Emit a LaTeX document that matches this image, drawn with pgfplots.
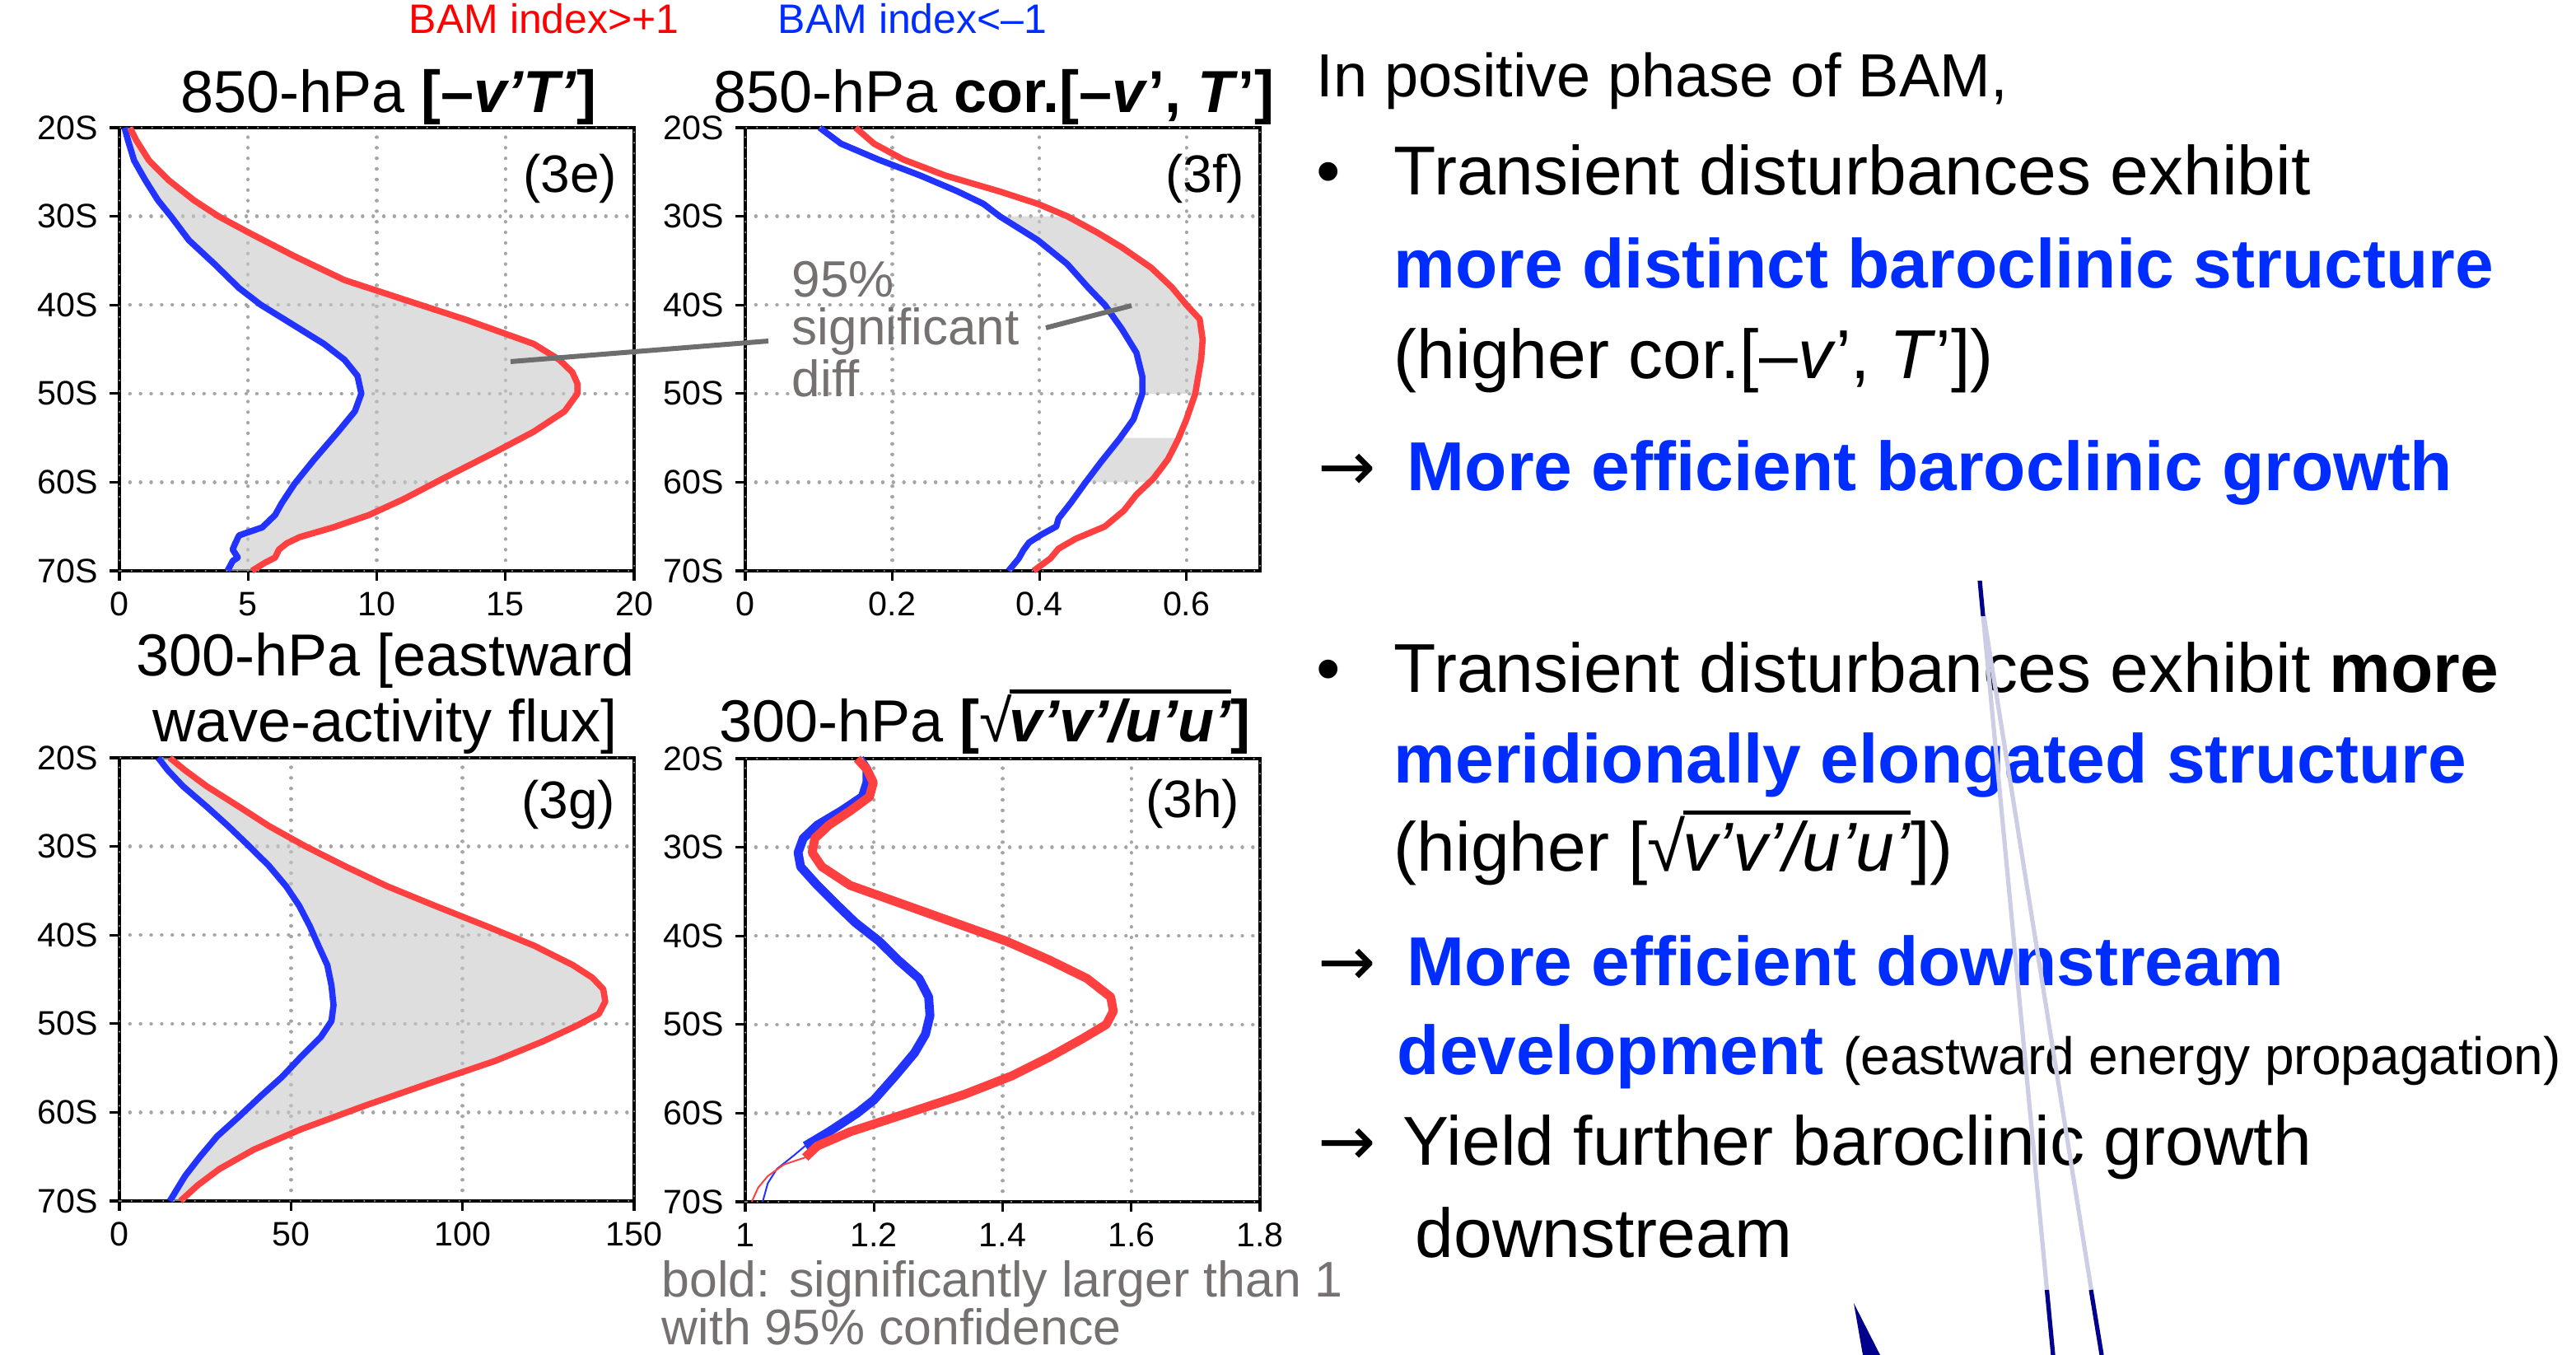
\documentclass[border=0pt]{standalone}
\usepackage{fontspec}
\setmainfont{Liberation Sans}
\newfontfamily\dejavu{DejaVu Sans}
\usepackage{pgfplots}
\usepackage{pgfplotstable}
\pgfplotsset{compat=1.18}

\definecolor{lred}{RGB}{255,64,64}
\definecolor{lblue}{RGB}{34,51,255}
\definecolor{tred}{RGB}{255,0,0}
\definecolor{tblue}{RGB}{0,45,255}
\definecolor{anngrey}{RGB}{118,113,113}
\definecolor{gridgrey}{RGB}{165,165,165}
\definecolor{leader}{RGB}{110,110,110}
\definecolor{navyx}{RGB}{0,0,140}
\definecolor{lav}{RGB}{205,205,230}
\definecolor{fillg}{RGB}{200,200,200}

\newcommand\sqrtbox[1]{√\kern-0.04em\vbox{\hrule height 0.06em\kern0.1em\hbox{#1}}}

\pgfplotstableread{
x y
0.41 -20
0.65 -21.4
1.15 -23.7
1.9 -25.9
2.9 -28.2
3.85 -30
5.0 -31.8
6.8 -34.5
8.75 -37.2
11.7 -40
13.5 -41.7
16.1 -44.4
17.1 -46.2
17.6 -47.6
17.8 -48.9
17.8 -50
17.3 -52
16.1 -54.3
14.6 -56.6
12.5 -59.7
11.05 -61.9
9.7 -63.7
8.3 -65.1
7.0 -66.2
6.5 -66.9
6.2 -67.6
6.05 -68.5
5.65 -69.1
5.15 -70
}\eRed
\pgfplotstableread{
x y
0.2 -20
0.33 -21.4
0.57 -23.7
1.0 -25.9
1.5 -28.2
2.0 -30
2.7 -32.7
3.7 -35.4
4.65 -38.1
5.5 -40
6.45 -41.7
7.95 -44.4
8.75 -46.2
9.25 -48
9.4 -50
9.15 -52
8.5 -54.3
7.55 -57.5
6.8 -60.2
6.3 -62.4
6.05 -63.7
5.55 -65.1
4.65 -66
4.5 -66.9
4.4 -67.6
4.6 -68.5
4.4 -68.9
4.2 -70
}\eBlue
\pgfplotstableread{
x y
0.150 -20
0.175 -21.8
0.215 -23.6
0.272 -25.4
0.346 -27.2
0.398 -28.6
0.438 -30
0.478 -31.8
0.512 -33.5
0.552 -35.8
0.580 -38
0.600 -40
0.618 -41.6
0.622 -43.9
0.620 -46.1
0.612 -50
0.600 -52.9
0.589 -55.1
0.575 -57.4
0.555 -59.6
0.532 -61.4
0.515 -63.2
0.489 -65
0.449 -66.4
0.426 -67.5
0.415 -68.6
0.392 -70
}\fRed
\pgfplotstableread{
x y
0.101 -20
0.130 -21.8
0.181 -23.6
0.238 -25.4
0.289 -27.2
0.324 -28.6
0.346 -30
0.398 -32.7
0.438 -35.4
0.467 -38.1
0.489 -40
0.512 -42.7
0.532 -45.4
0.540 -48.1
0.540 -50
0.528 -52.9
0.509 -55.1
0.483 -57.8
0.463 -60
0.443 -62.3
0.426 -64.1
0.423 -65
0.403 -65.9
0.386 -66.8
0.378 -67.7
0.372 -68.6
0.358 -70
}\fBlue
\pgfplotstableread{
x y
14.7 -20
19.1 -21.4
25.4 -23.2
34.8 -25.5
43.6 -27.7
54.3 -30
65.6 -32.2
78.1 -34.5
92 -36.7
107 -39
120.9 -41.2
132.2 -43.4
137.8 -44.8
141 -46.1
141.6 -47.5
139.7 -48.9
133.4 -50.2
123.4 -52
109.5 -54.2
92 -56.5
71.9 -59.2
53 -61.9
39.2 -64.2
29.1 -66.4
22.9 -68.2
17.8 -70
}\gRed
\pgfplotstableread{
x y
11.3 -20
14.1 -21.4
18.5 -23.2
25.4 -25.5
31.7 -27.7
37.9 -30
43.6 -32.2
48.6 -34.5
52.4 -36.7
55.5 -39
58 -41.2
60.6 -43.4
61.8 -45.7
62.4 -47.9
61.8 -49.7
58.7 -51.5
53 -53.7
47.4 -56
41.1 -58.2
34.8 -60.5
28.5 -62.7
23.5 -65
19.1 -67.2
14.7 -70
}\gBlue
\pgfplotstableread{
x y
1.174 -20
1.189 -21.2
1.199 -22.7
1.193 -24.3
1.163 -25.9
1.130 -27.5
1.108 -29
1.104 -30.6
1.119 -32.2
1.163 -34.3
1.244 -36.4
1.325 -38.5
1.406 -40.6
1.472 -42.7
1.531 -44.8
1.568 -46.9
1.572 -48.5
1.561 -50
1.524 -51.6
1.472 -53.7
1.414 -55.8
1.340 -57.9
1.252 -60
1.163 -62.1
1.112 -63.7
1.093 -65
}\hRedThick
\pgfplotstableread{
x y
1.093 -65
1.060 -65.8
1.035 -67.1
1.020 -68.4
1.010 -70
}\hRedThin
\pgfplotstableread{
x y
1.178 -20
1.189 -21.2
1.189 -22.7
1.182 -24.3
1.149 -25.9
1.112 -27.5
1.090 -29
1.082 -30.6
1.086 -32.2
1.112 -34.3
1.141 -36.4
1.171 -38.5
1.208 -40.6
1.237 -42.7
1.270 -44.8
1.285 -46.9
1.287 -49
1.280 -51.1
1.263 -53.2
1.233 -55.8
1.200 -58.5
1.174 -60
1.130 -62.1
1.093 -63.7
}\hBlueThick
\pgfplotstableread{
x y
1.093 -63.7
1.075 -64.8
1.049 -66.3
1.035 -67.9
1.027 -70
}\hBlueThin

\pgfplotsset{panel/.style={
  scale only axis, width=156.25pt, height=134.5pt,
  ymin=-70, ymax=-20, ytick={-70,-60,-50,-40,-30,-20},
  yticklabels={70S,60S,50S,40S,30S,20S},
  axis line style={black, line width=1.1pt},
  tick align=outside, tick pos=left, major tick length=3pt,
  tick style={black, line width=0.8pt},
  grid=major,
  major grid style={gridgrey, line width=1.1pt, dash pattern=on 0.01pt off 3.2pt, line cap=round},
  tick label style={font=\fontsize{10.3}{12}\selectfont},
  /pgf/number format/assume math mode=true,
  clip=false,
}}
\pgfplotsset{rl/.style={lred, line width=1.9pt, line join=round}, bl/.style={lblue, line width=1.9pt, line join=round},
  sh/.style={fill=fillg, fill opacity=0.6, draw=none}}
\newcommand\frameover{\draw[gridgrey, line width=0.6pt, dash pattern=on 0.01pt off 3.2pt, line cap=round] (rel axis cs:0,0) rectangle (rel axis cs:1,1);}

\newcommand\tf{\fontsize{18}{20}\selectfont}

\begin{document}
\begin{tikzpicture}
\path[use as bounding box] (0,0) rectangle (782pt,-411.25pt);

% 3e
\begin{axis}[panel, at={(36.25pt,-38.75pt)}, anchor=north west,
  xmin=0, xmax=20, xtick={0,5,10,15,20}]
\addplot[sh] coordinates {(0.41,-20) (0.65,-21.4) (1.15,-23.7) (1.9,-25.9) (2.9,-28.2) (3.85,-30) (5.0,-31.8) (6.8,-34.5) (8.75,-37.2) (11.7,-40) (13.5,-41.7) (16.1,-44.4) (17.1,-46.2) (17.6,-47.6) (17.8,-48.9) (17.8,-50) (17.3,-52) (16.1,-54.3) (14.6,-56.6) (12.5,-59.7) (11.05,-61.9) (9.7,-63.7) (8.3,-65.1) (7.0,-66.2) (6.5,-66.9) (6.2,-67.6) (6.05,-68.5) (5.65,-69.1) (5.15,-70)
 (4.2,-70) (4.4,-68.9) (4.6,-68.5) (4.4,-67.6) (4.5,-66.9) (4.65,-66) (5.55,-65.1) (6.05,-63.7) (6.3,-62.4) (6.8,-60.2) (7.55,-57.5) (8.5,-54.3) (9.15,-52) (9.4,-50) (9.25,-48) (8.75,-46.2) (7.95,-44.4) (6.45,-41.7) (5.5,-40) (4.65,-38.1) (3.7,-35.4) (2.7,-32.7) (2.0,-30) (1.5,-28.2) (1.0,-25.9) (0.57,-23.7) (0.33,-21.4) (0.2,-20)};
\addplot[bl] table {\eBlue};
\addplot[rl] table {\eRed};
\frameover
\end{axis}

% 3f
\begin{axis}[panel, at={(226.25pt,-38.75pt)}, anchor=north west,
  xmin=0, xmax=0.7, xtick={0,0.2,0.4,0.6}]
\addplot[sh] coordinates {(0.438,-30) (0.478,-31.8) (0.512,-33.5) (0.552,-35.8) (0.580,-38) (0.600,-40) (0.618,-41.6) (0.622,-43.9) (0.620,-46.1) (0.612,-50)
 (0.540,-50) (0.540,-48.1) (0.532,-45.4) (0.512,-42.7) (0.489,-40) (0.467,-38.1) (0.438,-35.4) (0.398,-32.7) (0.346,-30)};
\addplot[sh] coordinates {(0.589,-55) (0.575,-57.4) (0.552,-60) (0.463,-60) (0.483,-57.8) (0.510,-55)};
\addplot[bl] table {\fBlue};
\addplot[rl] table {\fRed};
\frameover
\end{axis}

% 3g
\begin{axis}[panel, at={(36.25pt,-230pt)}, anchor=north west,
  xmin=0, xmax=150, xtick={0,50,100,150}]
\addplot[sh] coordinates {(14.7,-20) (19.1,-21.4) (25.4,-23.2) (34.8,-25.5) (43.6,-27.7) (54.3,-30) (65.6,-32.2) (78.1,-34.5) (92,-36.7) (107,-39) (120.9,-41.2) (132.2,-43.4) (137.8,-44.8) (141,-46.1) (141.6,-47.5) (139.7,-48.9) (133.4,-50.2) (123.4,-52) (109.5,-54.2) (92,-56.5) (71.9,-59.2) (53,-61.9) (39.2,-64.2) (29.1,-66.4) (22.9,-68.2) (17.8,-70)
 (14.7,-70) (19.1,-67.2) (23.5,-65) (28.5,-62.7) (34.8,-60.5) (41.1,-58.2) (47.4,-56) (53,-53.7) (58.7,-51.5) (61.8,-49.7) (62.4,-47.9) (61.8,-45.7) (60.6,-43.4) (58,-41.2) (55.5,-39) (52.4,-36.7) (48.6,-34.5) (43.6,-32.2) (37.9,-30) (31.7,-27.7) (25.4,-25.5) (18.5,-23.2) (14.1,-21.4) (11.3,-20)};
\addplot[bl] table {\gBlue};
\addplot[rl] table {\gRed};
\frameover
\end{axis}

% 3h
\begin{axis}[panel, at={(226.25pt,-230.25pt)}, anchor=north west,
  xmin=1, xmax=1.8, xtick={1,1.2,1.4,1.6,1.8}]
\addplot[lblue, line width=2.7pt, line join=round] table {\hBlueThick};
\addplot[lblue, line width=0.5pt] table {\hBlueThin};
\addplot[lred, line width=2.7pt, line join=round] table {\hRedThick};
\addplot[lred, line width=0.5pt] table {\hRedThin};
\frameover
\end{axis}

\begin{scope}[x=0.25pt, y=-0.25pt]
% legend texts
\node[anchor=base west, inner sep=0, text=tred, font=\fontsize{12.5}{14}\selectfont] at (496,41) {BAM index>+1};
\node[anchor=base west, inner sep=0, text=tblue, font=\fontsize{12.5}{14}\selectfont] at (944,41) {BAM index<–1};

% titles
\node[anchor=base, inner sep=0, font=\tf] at (472,137) {850-hPa \textbf{[–\textit{v’T’}]}};
\node[anchor=base, inner sep=0, font=\tf] at (1207,137) {850-hPa \textbf{cor.[–\textit{v}’, \textit{T}’]}};
\node[anchor=base, inner sep=0, font=\tf] at (468,821) {300-hPa [eastward};
\node[anchor=base, inner sep=0, font=\tf] at (468,901) {wave-activity flux]};
\node[anchor=base, inner sep=0, font=\tf] at (1196,901) {300-hPa \textbf{[}\sqrtbox{\textbf{\textit{v’v’/u’u’}}}\textbf{]}};

% panel labels
\node[anchor=north east, inner sep=0, font=\fontsize{16}{18}\selectfont] at (750,186) {(3e)};
\node[anchor=north east, inner sep=0, font=\fontsize{16}{18}\selectfont] at (1512,186) {(3f)};
\node[anchor=north east, inner sep=0, font=\fontsize{16}{18}\selectfont] at (748,946) {(3g)};
\node[anchor=north east, inner sep=0, font=\fontsize{16}{18}\selectfont] at (1506,945) {(3h)};

% annotation
\draw[leader, line width=1.5pt] (620,439) -- (933,414);
\draw[leader, line width=1.5pt] (1270,398) -- (1374,371);
\node[anchor=base west, inner sep=0, text=anngrey, font=\fontsize{15.5}{17}\selectfont] at (961,361) {95\%};
\node[anchor=base west, inner sep=0, text=anngrey, font=\fontsize{15.5}{17}\selectfont] at (961,419) {significant};
\node[anchor=base west, inner sep=0, text=anngrey, font=\fontsize{15.5}{17}\selectfont] at (961,482) {diff};

\node[anchor=base west, inner sep=0, text=anngrey, font=\fontsize{15.2}{17}\selectfont] at (803,1574) {bold: significantly larger than 1};
\node[anchor=base west, inner sep=0, text=anngrey, font=\fontsize{15.2}{17}\selectfont] at (803,1632) {with 95\% confidence};

% right text
\node[anchor=base west, inner sep=0, font=\fontsize{18.5}{20}\selectfont] at (1598,118) {In positive phase of BAM,};
\node[anchor=base west, inner sep=0, font=\fontsize{21}{24}\selectfont] at (1598,237) {•};
\node[anchor=base west, inner sep=0, font=\fontsize{21}{24}\selectfont] at (1692,237) {Transient disturbances exhibit};
\node[anchor=base west, inner sep=0, text=tblue, font=\fontsize{21}{24}\selectfont\bfseries] at (1692,350) {more distinct baroclinic structure};
\node[anchor=base west, inner sep=0, font=\fontsize{21}{24}\selectfont] at (1692,460) {(higher cor.[–\textit{v}’, \textit{T}’])};
\node[anchor=base west, inner sep=0, font=\dejavu\fontsize{21}{24}\selectfont] at (1600,596) {→};
\node[anchor=base west, inner sep=0, text=tblue, font=\fontsize{21}{24}\selectfont\bfseries] at (1708,596) {More efficient baroclinic growth};

\node[anchor=base west, inner sep=0, font=\fontsize{21}{24}\selectfont] at (1598,841) {•};
\node[anchor=base west, inner sep=0, font=\fontsize{21}{24}\selectfont] at (1692,841) {Transient disturbances exhibit \textbf{more}};
\node[anchor=base west, inner sep=0, text=tblue, font=\fontsize{21}{24}\selectfont\bfseries] at (1692,951) {meridionally elongated structure};
\node[anchor=base west, inner sep=0, font=\fontsize{21}{24}\selectfont] at (1692,1058) {(higher [\sqrtbox{\textit{v’v’/u’u’}}])};
\node[anchor=base west, inner sep=0, font=\dejavu\fontsize{21}{24}\selectfont] at (1600,1197) {→};
\node[anchor=base west, inner sep=0, text=tblue, font=\fontsize{21}{24}\selectfont\bfseries] at (1708,1197) {More efficient downstream};
\node[anchor=base west, inner sep=0, font=\fontsize{21}{24}\selectfont] at (1696,1305) {\textcolor{tblue}{\bfseries development} \fontsize{16}{18}\selectfont(eastward energy propagation)};
\node[anchor=base west, inner sep=0, font=\dejavu\fontsize{21}{24}\selectfont] at (1600,1415) {→};
\node[anchor=base west, inner sep=0, font=\fontsize{21}{24}\selectfont] at (1703,1415) {Yield further baroclinic growth};
\node[anchor=base west, inner sep=0, font=\fontsize{21}{24}\selectfont] at (1718,1526) {downstream};

% stray lines
\draw[lav, line width=1.3pt] (2404,705) -- (2493,1645);
\draw[lav, line width=1.3pt] (2409,748) -- (2552,1645);
\draw[navyx, line width=1.3pt] (2404,705) -- (2408,748);
\draw[navyx, line width=1.3pt] (2485.5,1566) -- (2493,1645);
\draw[navyx, line width=1.3pt] (2539,1566) -- (2552,1645);
\fill[navyx] (2251,1582) -- (2262,1645) -- (2283,1645) -- cycle;
\end{scope}
\end{tikzpicture}
\end{document}
